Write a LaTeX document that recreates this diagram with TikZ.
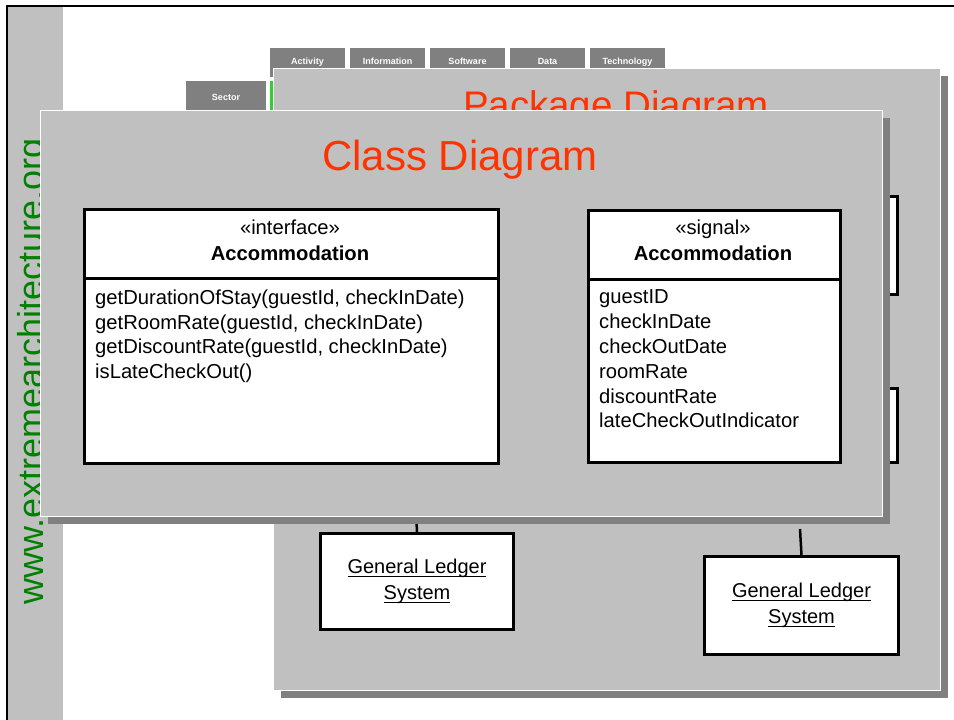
\documentclass[tikz,border=0pt]{standalone}
\usepackage{fontspec}
\setmainfont{Liberation Sans}

\definecolor{panelgray}{RGB}{192,192,192}
\definecolor{shadowgray}{RGB}{128,128,128}
\definecolor{titlered}{RGB}{255,51,0}
\definecolor{sitegreen}{RGB}{0,128,0}
\definecolor{markgreen}{RGB}{51,204,51}

% underline set close under the baseline
\newcommand{\glunder}[1]{\setbox0=\hbox{#1}\rlap{\rule[-3pt]{\wd0}{1pt}}\box0}

\begin{document}
\begin{tikzpicture} [x=1pt, y=-1pt,
    panel/.style={fill=panelgray, draw=white, line width=1pt},
    shade/.style={fill=shadowgray},
    tab/.style={fill=shadowgray, draw=white, line width=1pt, text=white, font=\bfseries\fontsize{9}{10}\selectfont, text height=6.5pt, text depth=2pt, minimum width=76pt, minimum height=30pt, anchor=north west, inner sep=0pt},
    umlbox/.style={draw=black, line width=3pt, fill=white, anchor=north west, inner sep=0pt},
    title/.style={text=titlered, anchor=base, inner sep=0pt},
    body/.style={font=\fontsize{20.2}{24.8}\selectfont, inner sep=0pt}]

            \useasboundingbox (0,0) rectangle (954,720);
            \fill[white] (0,0) rectangle (954,720);

            % slide frame and side strip
            \fill[panelgray] (8,7) rectangle (63,720);
            \draw[line width=2pt] (7,720) -- (7,6) -- (954,6);
            \node[text=sitegreen, rotate=90, anchor=base west, inner sep=0pt, font=\fontsize{36}{40}\selectfont] (site) at (43,605) {www.extremearchitecture.org};

            % tabs
            \node[tab] (activity) at (269,47)       {Activity};
            \node[tab] (information) at (349,47)    {Information};
            \node[tab] (software) at (429,47)       {Software};
            \node[tab] (data) at (509,47)           {Data};
            \node[tab] (technology) at (589,47)     {Technology};
            \node[tab, minimum width=81pt, minimum height=36pt] (sector) at (185,80) {Sector};
            \fill[markgreen] (270,81) rectangle (273.5,110);

            % package diagram slide
            \fill[shade] (281,76) rectangle (948,698);
            \draw[panel] (273,68) rectangle (940,690);
            \node[title, font=\fontsize{38.5}{46}\selectfont] (pkgtitle) at (616,118) {Package Diagram};

            \node[umlbox, minimum width=196pt, minimum height=98pt] (pkga) at (700,195) {};
            \node[umlbox, minimum width=196pt, minimum height=74pt] (pkgb) at (700,387) {};

            \node[umlbox, minimum width=193pt, minimum height=96pt, align=center, font=\fontsize{20}{26}\selectfont] (ledgera) at (319,532) {\glunder{General Ledger}\\\glunder{System}};
            \node[umlbox, minimum width=194pt, minimum height=98pt, align=center, font=\fontsize{20}{26}\selectfont] (ledgerb) at (703,555) {\glunder{General Ledger}\\\glunder{System}};
            \coordinate (ledgeratop) at (415.5,500);
            \coordinate (ledgerbtop) at (800,529);
            \draw[line width=2.5pt] (ledgera.north) -- (ledgeratop);
            \draw[line width=2.5pt] (ledgerb.north) -- (ledgerbtop);

            % class diagram slide
            \fill[shade] (48,118) rectangle (890,524);
            \draw[panel] (40,110) rectangle (882,516);
            \node[title, font=\fontsize{42}{50}\selectfont] (classtitle) at (460,170) {Class Diagram};

            \node[umlbox, minimum width=414pt, minimum height=254pt] (iface) at (83,208) {};
            \draw[line width=3pt] ([yshift=-70pt]iface.north west) -- ([yshift=-70pt]iface.north east);
            \node[body, anchor=base] (istereo) at (290,234) {«interface»};
            \node[body, anchor=base, font=\bfseries\fontsize{20.2}{24.8}\selectfont] (iname) at (290,260) {Accommodation};
            \node[body, anchor=north west, align=left] (iops) at (95,289.5) {getDurationOfStay(guestId, checkInDate)\\getRoomRate(guestId, checkInDate)\\getDiscountRate(guestId, checkInDate)\\isLateCheckOut()};

            \node[umlbox, minimum width=252pt, minimum height=252pt] (signal) at (587,209) {};
            \draw[line width=3pt] ([yshift=-70pt]signal.north west) -- ([yshift=-70pt]signal.north east);
            \node[body, anchor=base] (sstereo) at (713,234) {«signal»};
            \node[body, anchor=base, font=\bfseries\fontsize{20.2}{24.8}\selectfont] (sname) at (713,260) {Accommodation};
            \node[body, anchor=north west, align=left] (sattrs) at (599,289.7) {guestID\\checkInDate\\checkOutDate\\roomRate\\discountRate\\lateCheckOutIndicator};
        \end{tikzpicture}
\end{document}
